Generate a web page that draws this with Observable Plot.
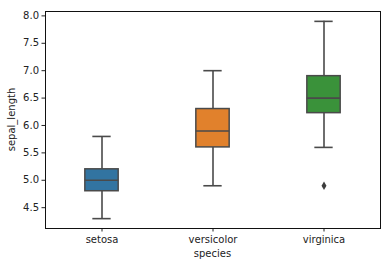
<!DOCTYPE html>
<html>
<head>
<meta charset="utf-8">
<script src="https://cdn.jsdelivr.net/npm/d3@7"></script>
<script src="https://cdn.jsdelivr.net/npm/@observablehq/plot@0.6"></script>
<style>
  html, body { margin: 0; padding: 0; background: #fff; }
  svg { display: block; }
</style>
</head>
<body>
<div id="chart"></div>
<script>
// Iris sepal length box summaries per species
const species = ["setosa", "versicolor", "virginica"];
const q1 = [4.8, 5.6, 6.225];
const median = [5.0, 5.9, 6.5];
const q3 = [5.2, 6.3, 6.9];
const whiskerLow = [4.3, 4.9, 5.6];
const whiskerHigh = [5.8, 7.0, 7.9];
const outlierSpecies = ["virginica"];
const outlierValues = [4.9];
const colors = ["#3274a1", "#e1812c", "#3a923a"];
const yTicks = [4.5, 5.0, 5.5, 6.0, 6.5, 7.0, 7.5, 8.0];

const boxes = species.map((s, i) => ({
  species: s, q1: q1[i], median: median[i], q3: q3[i],
  lo: whiskerLow[i], hi: whiskerHigh[i], color: colors[i]
}));
const outliers = outlierSpecies.map((s, i) => ({species: s, value: outlierValues[i]}));

const W = 390, H = 266;
const mL = 45, mR = 10, mT = 11, mB = 38;
const band = (W - mL - mR) / species.length;
const boxW = 34, capW = 19;
const boxInset = (band - boxW) / 2;
const capInset = (band - capW) / 2;
const line = "#4a4a4a";

const chart = Plot.plot({
  width: W,
  height: H,
  marginLeft: mL,
  marginRight: mR,
  marginTop: mT,
  marginBottom: mB,
  style: {fontFamily: "DejaVu Sans", fontSize: "10px", color: "#222", background: "#fff"},
  x: {domain: species, padding: 0, label: null},
  y: {domain: [4.12, 8.08], label: null},
  marks: [
    // whiskers
    Plot.ruleX(boxes, {x: "species", y1: "lo", y2: "q1", stroke: line, strokeWidth: 1.6}),
    Plot.ruleX(boxes, {x: "species", y1: "q3", y2: "hi", stroke: line, strokeWidth: 1.6}),
    Plot.tickY(boxes, {x: "species", y: "lo", stroke: line, strokeWidth: 1.6, insetLeft: capInset, insetRight: capInset}),
    Plot.tickY(boxes, {x: "species", y: "hi", stroke: line, strokeWidth: 1.6, insetLeft: capInset, insetRight: capInset}),
    // boxes
    Plot.barY(boxes, {x: "species", y1: "q1", y2: "q3", fill: "color", stroke: line, strokeWidth: 1.5, insetLeft: boxInset, insetRight: boxInset}),
    Plot.tickY(boxes, {x: "species", y: "median", stroke: line, strokeWidth: 1.6, insetLeft: boxInset, insetRight: boxInset}),
    // outliers
    Plot.dot(outliers, {x: "species", y: "value", symbol: "diamond", r: 2.6, fill: "#3d3d3d", stroke: "none"}),
    Plot.axisY({ticks: yTicks, tickFormat: d3.format(".1f"), tickSize: 3.5, tickPadding: 3, label: null}),
    Plot.axisX({tickSize: 3.5, tickPadding: 4, label: null}),
    Plot.frame({stroke: "#111", strokeWidth: 1})
  ]
});

const svg = d3.select(chart);
// axis titles
svg.append("text")
  .attr("x", mL + (W - mL - mR) / 2)
  .attr("y", 257)
  .attr("text-anchor", "middle")
  .attr("font-family", "DejaVu Sans")
  .attr("font-size", 10)
  .attr("fill", "#222")
  .text("species");
svg.append("text")
  .attr("transform", `translate(15,${mT + (H - mT - mB) / 2}) rotate(-90)`)
  .attr("text-anchor", "middle")
  .attr("font-family", "DejaVu Sans")
  .attr("font-size", 10)
  .attr("fill", "#222")
  .text("sepal_length");

document.getElementById("chart").appendChild(chart);
</script>
</body>
</html>
